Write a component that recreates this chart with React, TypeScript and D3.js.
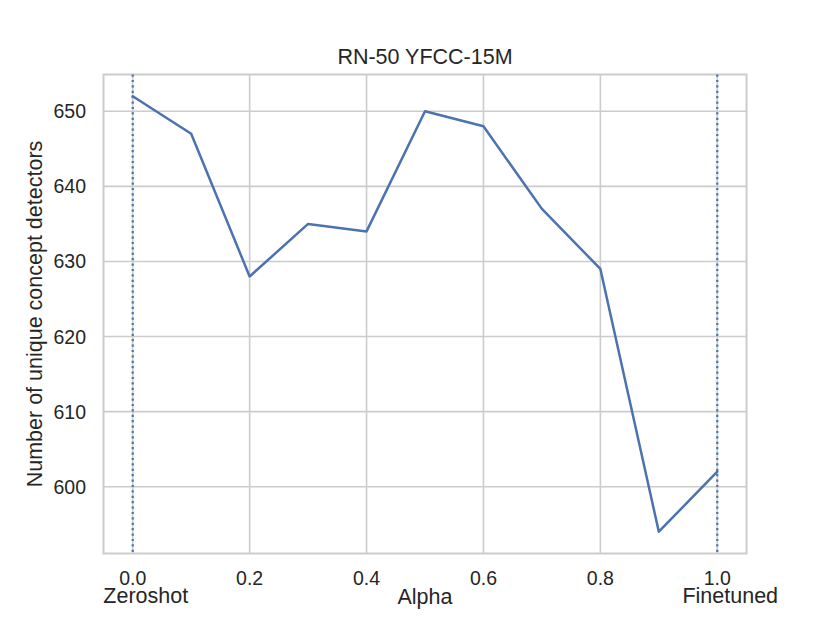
import React from "react";
import * as d3 from "d3";

const alphas = [0, 0.1, 0.2, 0.3, 0.4, 0.5, 0.6, 0.7, 0.8, 0.9, 1.0];
const detectors = [652, 647, 628, 635, 634, 650, 648, 637, 629, 594, 602];
const xTicks = [0, 0.2, 0.4, 0.6, 0.8, 1.0];
const yTicks = [600, 610, 620, 630, 640, 650];
const vlines = [0, 1];
const title = "RN-50 YFCC-15M";
const xLabel = "Alpha";
const yLabel = "Number of unique concept detectors";
const endLabels = [
  { x: 0, text: "Zeroshot" },
  { x: 1, text: "Finetuned" },
];

const W = 830;
const H = 623;
const L = 103.5;
const R = 746.5;
const T = 74.5;
const B = 553.5;
const FONT = "'Liberation Sans', Arial, sans-serif";
const BLUE = "#4c72b0";
const GRID = "#cccccc";

export default function App() {
  const xMin = d3.min(alphas)!;
  const xMax = d3.max(alphas)!;
  const xPad = (xMax - xMin) * 0.05;
  const yMin = d3.min(detectors)!;
  const yMax = d3.max(detectors)!;
  const yPad = (yMax - yMin) * 0.05;
  const x = d3.scaleLinear().domain([xMin - xPad, xMax + xPad]).range([L, R]);
  const y = d3.scaleLinear().domain([yMin - yPad, yMax + yPad]).range([B, T]);
  const line = d3
    .line<number>()
    .x((_, i) => x(alphas[i]))
    .y((d) => y(d));

  return (
    <svg
      width={W}
      height={H}
      style={{ position: "absolute", left: 0, top: 0, background: "#fff" }}
      fontFamily={FONT}
    >
      <rect x={0} y={0} width={W} height={H} fill="#fff" />
      {xTicks.map((t) => (
        <line key={"gx" + t} x1={x(t)} x2={x(t)} y1={T} y2={B} stroke={GRID} strokeWidth={1.6} />
      ))}
      {yTicks.map((t) => (
        <line key={"gy" + t} x1={L} x2={R} y1={y(t)} y2={y(t)} stroke={GRID} strokeWidth={1.6} />
      ))}
      <rect x={L} y={T} width={R - L} height={B - T} fill="none" stroke={GRID} strokeWidth={2} />
      {vlines.map((v) => (
        <line
          key={"v" + v}
          x1={x(v)}
          x2={x(v)}
          y1={T}
          y2={B}
          stroke={BLUE}
          strokeWidth={2.2}
          strokeDasharray="2.2,3.2"
        />
      ))}
      <path d={line(detectors) ?? ""} fill="none" stroke={BLUE} strokeWidth={2.5} strokeLinejoin="round" strokeLinecap="round" />
      {xTicks.map((t) => (
        <text key={"tx" + t} x={x(t)} y={585} textAnchor="middle" fontSize={19.5} fill="#262626">
          {t.toFixed(1)}
        </text>
      ))}
      {yTicks.map((t) => (
        <text key={"ty" + t} x={86} y={y(t)} dy="0.36em" textAnchor="end" fontSize={19.5} fill="#262626">
          {t}
        </text>
      ))}
      {endLabels.map((e) => (
        <text
          key={e.text}
          x={x(e.x)}
          dx={e.x === 0 ? 13 : 13}
          y={603}
          textAnchor="middle"
          fontSize={21.5}
          fill="#262626"
        >
          {e.text}
        </text>
      ))}
      <text x={(L + R) / 2} y={604} textAnchor="middle" fontSize={21.5} fill="#262626">
        {xLabel}
      </text>
      <text
        transform={`translate(${42},${(T + B) / 2}) rotate(-90)`}
        textAnchor="middle"
        fontSize={21.5}
        fill="#262626"
      >
        {yLabel}
      </text>
      <text x={(L + R) / 2} y={64} textAnchor="middle" fontSize={21.5} fill="#262626">
        {title}
      </text>
    </svg>
  );
}
